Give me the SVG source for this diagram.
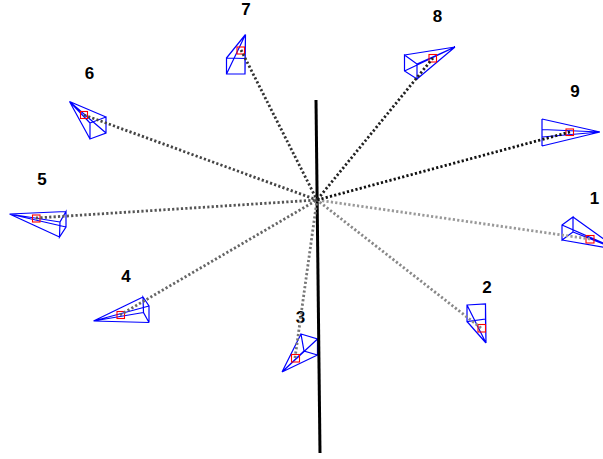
<svg xmlns="http://www.w3.org/2000/svg" width="603" height="459" viewBox="0 0 603 459">
<style>
.cam{fill:none;stroke:#0000ff;stroke-width:1.2;stroke-linejoin:miter}
.red{fill:none;stroke:#ff0000;stroke-width:1.1}
.ray{fill:none;stroke-width:2.8;stroke-dasharray:2.2 2.2}
.lbl{font-family:"Liberation Sans",Arial,sans-serif;font-size:17px;font-weight:bold;fill:#000;text-anchor:middle}
</style>
<rect width="603" height="459" fill="#fff"/>
<g id="cam1"><path class="cam" d="M562 225L573 217L573 232L562 240ZM619 250L562 225M619 250L573 217M619 250L573 232M619 250L562 240"/><rect class="red" x="586" y="235.500" width="8" height="7.500"/><text class="lbl" x="594.500" y="204">1</text></g>
<g id="cam2"><path class="cam" d="M467 305L485.500 304L485.500 319L467 321.500ZM486 343L467 305M486 343L485.500 304M486 343L485.500 319M486 343L467 321.500"/><rect class="red" x="478" y="324.500" width="7.500" height="7.500"/><text class="lbl" x="487" y="292.500">2</text></g>
<g id="cam3"><path class="cam" d="M301 334L317.500 339L317.500 355L304 351ZM282 372L301 334M282 372L317.500 339M282 372L317.500 355M282 372L304 351"/><rect class="red" x="291.500" y="354.500" width="8" height="7.500"/><text class="lbl" x="300.500" y="323">3</text></g>
<g id="cam4"><path class="cam" d="M143 297L149 306L149 322.500L143.500 312.500ZM93.500 321L143 297M93.500 321L149 306M93.500 321L149 322.500M93.500 321L143.500 312.500"/><rect class="red" x="117" y="311.500" width="7.500" height="7"/><text class="lbl" x="126" y="281.500">4</text></g>
<g id="cam5"><path class="cam" d="M66 211.500L66 227L59.500 237L60 222ZM9.500 214L66 211.500M9.500 214L66 227M9.500 214L59.500 237M9.500 214L60 222"/><rect class="red" x="32.500" y="215" width="7.500" height="7"/><text class="lbl" x="42" y="184.500">5</text></g>
<g id="cam6"><path class="cam" d="M90 123L106 117L106 133L90 139ZM69.500 101.500L90 123M69.500 101.500L106 117M69.500 101.500L106 133M69.500 101.500L90 139"/><rect class="red" x="80.500" y="111.500" width="7" height="7"/><text class="lbl" x="89.500" y="79">6</text></g>
<g id="cam7"><path class="cam" d="M226.500 58L245 58.500L245 74L226.500 74ZM245.500 34.500L226.500 58M245.500 34.500L245 58.500M245.500 34.500L245 74M245.500 34.500L226.500 74"/><rect class="red" x="237" y="47" width="7.500" height="7"/><text class="lbl" x="246" y="15">7</text></g>
<g id="cam8"><path class="cam" d="M404.500 55L417 64L417 79L404.500 71ZM455 47L404.500 55M455 47L417 64M455 47L417 79M455 47L404.500 71"/><rect class="red" x="429" y="54.500" width="7.500" height="7.500"/><text class="lbl" x="437.500" y="22">8</text></g>
<g id="cam9"><path class="cam" d="M542 119L542 146M542 129.500L542 137M600 132L542 119M600 132L542 129.500M600 132L542 137M600 132L542 146"/><rect class="red" x="566" y="129" width="7.500" height="6.500"/><text class="lbl" x="575" y="97">9</text></g>
<g id="connectors">
<path d="M316 100L320 453" fill="none" stroke="#000" stroke-width="3"/>
<path class="ray" stroke="#999999" d="M590 239L317 200"/>
<path class="ray" stroke="#888888" d="M481 328L317 200"/>
<path class="ray" stroke="#777777" d="M295 358L317 200"/>
<path class="ray" stroke="#666666" d="M120 315L317 200"/>
<path class="ray" stroke="#555555" d="M36 218L317 200"/>
<path class="ray" stroke="#444444" d="M84 115L317 200"/>
<path class="ray" stroke="#333333" d="M241 50L317 200"/>
<path class="ray" stroke="#222222" d="M433 58L317 200"/>
<path class="ray" stroke="#111111" d="M570 132L317 200"/>
</g>
</svg>
